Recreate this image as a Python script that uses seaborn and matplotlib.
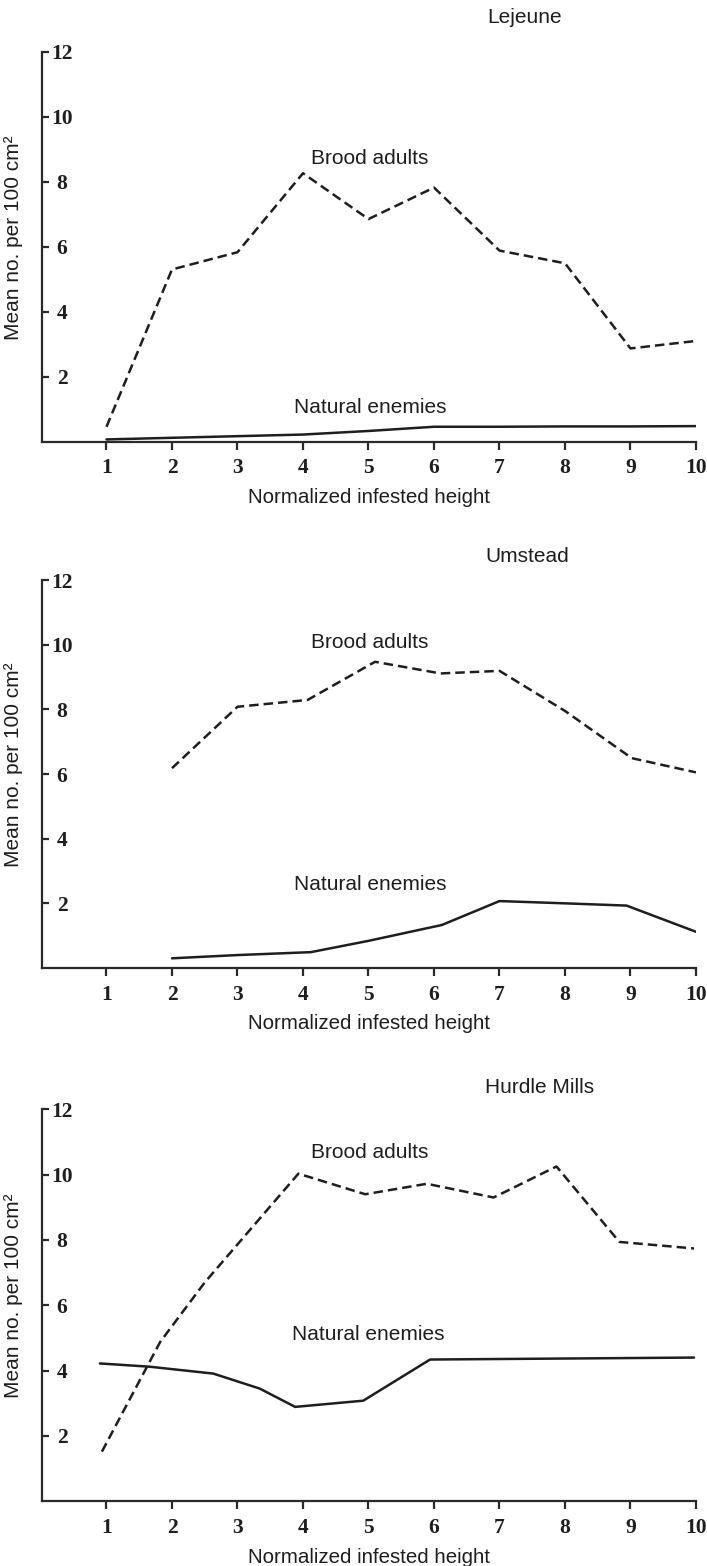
import matplotlib
matplotlib.use("Agg")
import matplotlib.pyplot as plt
import seaborn as sns
import pandas as pd

# ---------------- data ----------------
sites = ["Lejeune", "Umstead", "Hurdle Mills"]

lej_brood_x = [1, 2, 3, 4, 5, 6, 7, 8, 9, 10]
lej_brood_y = [0.46, 5.30, 5.83, 8.26, 6.85, 7.82, 5.88, 5.49, 2.87, 3.10]
lej_enemy_x = [1, 2, 3, 4, 5, 6, 7, 8, 9, 10]
lej_enemy_y = [0.07, 0.12, 0.17, 0.22, 0.33, 0.46, 0.46, 0.47, 0.47, 0.48]

umst_brood_x = [2, 3, 4.07, 5.1, 6.1, 7.0, 8, 9.02, 10]
umst_brood_y = [6.18, 8.08, 8.29, 9.47, 9.11, 9.19, 7.95, 6.49, 6.05]
umst_enemy_x = [2, 3, 4.12, 5, 6.12, 7.0, 8, 8.94, 10]
umst_enemy_y = [0.30, 0.40, 0.49, 0.84, 1.33, 2.07, 2.00, 1.93, 1.12]

hm_brood_x = [0.93, 1.82, 2.5, 3.93, 4.95, 5.89, 6.91, 7.87, 8.83, 9.97]
hm_brood_y = [1.52, 4.88, 6.70, 10.03, 9.40, 9.72, 9.30, 10.25, 7.94, 7.74]
hm_enemy_x = [0.90, 1.66, 2.63, 3.34, 3.88, 4.92, 5.94, 9.97]
hm_enemy_y = [4.22, 4.12, 3.91, 3.45, 2.89, 3.08, 4.34, 4.40]

x_ticks = [1, 2, 3, 4, 5, 6, 7, 8, 9, 10]
y_ticks = [2, 4, 6, 8, 10, 12]

series_names = ["Brood adults", "Natural enemies"]
xlabel = "Normalized infested height"
ylabel = "Mean no. per 100 cm\u00b2"

panels = [
    (lej_brood_x, lej_brood_y, lej_enemy_x, lej_enemy_y),
    (umst_brood_x, umst_brood_y, umst_enemy_x, umst_enemy_y),
    (hm_brood_x, hm_brood_y, hm_enemy_x, hm_enemy_y),
]

# label placement (data coordinates) per panel: site title, brood label, enemy label
title_pos = [(7.39, 13.04), (7.42, 12.72), (7.61, 12.68)]
brood_lab_pos = [(5.02, 8.72), (5.02, 10.06), (5.02, 10.69)]
enemy_lab_pos = [(5.02, 1.06), (5.02, 2.59), (5.0, 5.12)]

# ---------------- style ----------------
sns.set_theme(style="white")
plt.rcParams["font.family"] = ["Liberation Sans", "DejaVu Sans"]

ink = "#1e1e1e"
fig = plt.figure(figsize=(7.07, 15.66), dpi=100)

W, H = 707.0, 1566.0
left_px, right_px = 42.3, 696.0
axes_px = [(51.7, 441.7), (580.0, 968.0), (1109.3, 1501.3)]

for i, (bx, by, ex, ey) in enumerate(panels):
    top, bot = axes_px[i]
    ax = fig.add_axes([left_px / W, 1 - bot / H, (right_px - left_px) / W, (bot - top) / H])

    dfb = pd.DataFrame({"x": bx, "y": by})
    dfe = pd.DataFrame({"x": ex, "y": ey})
    sns.lineplot(data=dfb, x="x", y="y", ax=ax, color=ink, lw=1.8,
                 linestyle=(0, (3.8, 2.0)), sort=False, estimator=None)
    sns.lineplot(data=dfe, x="x", y="y", ax=ax, color=ink, lw=1.8,
                 sort=False, estimator=None)

    ax.set_xlim(0.02, 10)
    ax.set_ylim(0, 12)
    ax.set_xticks(x_ticks)
    ax.set_yticks(y_ticks)

    for s in ["top", "right"]:
        ax.spines[s].set_visible(False)
    for s in ["left", "bottom"]:
        ax.spines[s].set_color("#2a2a2a")
        ax.spines[s].set_linewidth(1.6)

    ax.tick_params(axis="x", direction="out", length=6, width=1.6, color="#2a2a2a",
                   pad=6, labelsize=15.5, labelcolor=ink, bottom=True)
    ax.tick_params(axis="y", direction="in", length=5, width=1.6, color="#2a2a2a",
                   pad=-14.2, labelsize=15.5, labelcolor=ink, left=True)
    for lbl in ax.get_xticklabels() + ax.get_yticklabels():
        lbl.set_fontfamily(["Liberation Serif", "DejaVu Serif"])
        lbl.set_fontweight("bold")
    for lbl in ax.get_yticklabels():
        lbl.set_horizontalalignment("center")

    ax.set_xlabel(xlabel, fontsize=14.8, color=ink, labelpad=7)
    ax.set_ylabel(ylabel, fontsize=15, color=ink)
    ax.yaxis.set_label_coords(-0.0295, 0.524)

    tx, ty = title_pos[i]
    ax.text(tx, ty, sites[i], ha="center", va="center", fontsize=15, color=ink, clip_on=False)
    bx_, by_ = brood_lab_pos[i]
    ax.text(bx_, by_, series_names[0], ha="center", va="center", fontsize=15, color=ink)
    ex_, ey_ = enemy_lab_pos[i]
    ax.text(ex_, ey_, series_names[1], ha="center", va="center", fontsize=15, color=ink)

fig.savefig("out.png", dpi=100, facecolor="white")
